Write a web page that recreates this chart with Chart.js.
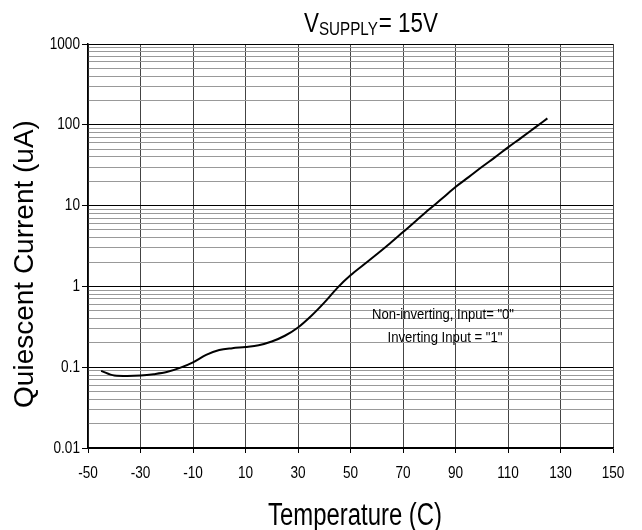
<!DOCTYPE html>
<html>
<head>
<meta charset="utf-8">
<script src="https://cdn.jsdelivr.net/npm/chart.js@4.4.1/dist/chart.umd.min.js"></script>
<style>
  html, body { margin: 0; padding: 0; background: #fff; }
  #wrap { width: 642px; height: 530px; }
</style>
</head>
<body>
<div id="wrap"><canvas id="chart"></canvas></div>
<script>
// temperature (C) vs quiescent current (uA)
const temps = [-45, -40, -35, -30, -25, -20, -15, -10, -5, 0, 5, 10, 15, 20, 25, 30, 35, 40, 45,
    50, 55, 60, 65, 70, 75, 80, 85, 90, 95, 100, 105, 110, 115, 120, 125];
const current = [0.090, 0.079, 0.078, 0.079, 0.082, 0.087, 0.098, 0.115, 0.142, 0.163, 0.172, 0.178,
    0.187, 0.208, 0.245, 0.310, 0.430, 0.630, 0.960, 1.37, 1.85, 2.50, 3.40, 4.70, 6.50, 9.0, 12.3,
    17.0, 22.5, 30, 39.5, 52.5, 69, 91, 120];

const xTicks = [-50, -30, -10, 10, 30, 50, 70, 90, 110, 130, 150];
const yDecades = [0.01, 0.1, 1, 10, 100, 1000];
const yDecadeLabels = ['0.01', '0.1', '1', '10', '100', '1000'];
const noteLines = ['Non-inverting, Input= "0"', 'Inverting Input = "1"'];

const SANS = "'Liberation Sans', Arial, sans-serif";

// all 1..9 x decade lines for the log grid
const yGridValues = [];
yDecades.slice(0, -1).forEach(d => {
    for (let m = 1; m <= 9; m++) yGridValues.push(Number((m * d).toPrecision(3)));
});
yGridValues.push(yDecades[yDecades.length - 1]);

const isDecade = v => yDecades.includes(v);

// text squeezed horizontally, to look like the narrow face of the original
function narrowText(ctx, text, x, y, size, squeeze, align) {
    ctx.save();
    ctx.font = `${size}px ${SANS}`;
    ctx.textAlign = align || 'center';
    ctx.translate(x, y);
    ctx.scale(squeeze, 1);
    ctx.fillText(text, 0, 0);
    ctx.restore();
}

function narrowWidth(ctx, text, size, squeeze) {
    ctx.save();
    ctx.font = `${size}px ${SANS}`;
    const w = ctx.measureText(text).width * squeeze;
    ctx.restore();
    return w;
}

const textPlugin = {
    id: 'texts',
    afterDraw(chart) {
        const ctx = chart.ctx;
        const sx = chart.scales.x, sy = chart.scales.y;
        ctx.save();
        ctx.fillStyle = '#000';
        ctx.textBaseline = 'middle';

        // tick labels
        xTicks.forEach(v => narrowText(ctx, String(v), sx.getPixelForValue(v), 473, 17, 0.8));
        yDecades.forEach((v, i) => narrowText(ctx, yDecadeLabels[i], 80, sy.getPixelForValue(v), 17, 0.8, 'right'));

        // title: V with SUPPLY subscript
        ctx.textBaseline = 'alphabetic';
        const sq = 0.8;
        const wV = narrowWidth(ctx, 'V', 28, sq);
        const wSub = narrowWidth(ctx, 'SUPPLY', 19, sq);
        const wEq = narrowWidth(ctx, '= 15V', 28, sq);
        let x = 371 - (wV + wSub + 1 + wEq) / 2;
        narrowText(ctx, 'V', x, 32, 28, sq, 'left');
        x += wV;
        narrowText(ctx, 'SUPPLY', x, 35, 19, sq, 'left');
        x += wSub + 1;
        narrowText(ctx, '= 15V', x, 32, 28, sq, 'left');

        // note inside the plot
        ctx.textBaseline = 'middle';
        narrowText(ctx, noteLines[0], 443, 315, 15, 142 / narrowWidth(ctx, noteLines[0], 15, 1));
        narrowText(ctx, noteLines[1], 445, 338, 15, 115 / narrowWidth(ctx, noteLines[1], 15, 1));

        // axis titles
        ctx.textBaseline = 'alphabetic';
        narrowText(ctx, 'Temperature (C)', 355, 525, 31, 174 / narrowWidth(ctx, 'Temperature (C)', 31, 1));

        ctx.textBaseline = 'middle';
        ctx.translate(25, 264);
        ctx.rotate(-Math.PI / 2);
        ctx.font = `28px ${SANS}`;
        ctx.textAlign = 'center';
        ctx.fillText('Quiescent Current (uA)', 0, 0);
        ctx.restore();
    }
};

new Chart(document.getElementById('chart'), {
    type: 'line',
    data: {
        datasets: [{
            data: temps.map((t, i) => ({ x: t, y: current[i] })),
            borderColor: '#000',
            borderWidth: 2,
            pointRadius: 0,
            fill: false,
            cubicInterpolationMode: 'monotone'
        }]
    },
    options: {
        responsive: true,
        maintainAspectRatio: false,
        animation: false,
        layout: { padding: { top: 44, right: 29, left: 0, bottom: 0 } },
        plugins: { legend: { display: false }, tooltip: { enabled: false } },
        scales: {
            x: {
                type: 'linear',
                min: -50,
                max: 150,
                afterBuildTicks: s => { s.ticks = xTicks.map(v => ({ value: v })); },
                afterFit: s => { s.height = 82; },
                ticks: { display: false },
                grid: { color: '#444', lineWidth: 1, tickLength: 5, tickColor: '#000' },
                border: { color: '#000', width: 1.5 }
            },
            y: {
                type: 'logarithmic',
                min: 0.01,
                max: 1000,
                afterBuildTicks: s => { s.ticks = yGridValues.map(v => ({ value: v })); },
                afterFit: s => { s.width = 88; },
                ticks: { display: false },
                grid: {
                    color: c => (c.tick && isDecade(c.tick.value)) ? '#000' : '#999',
                    lineWidth: 1,
                    tickLength: 6,
                    tickColor: c => (c.tick && isDecade(c.tick.value)) ? '#000' : 'rgba(0,0,0,0)'
                },
                border: { color: '#000', width: 1.5 }
            }
        }
    },
    plugins: [textPlugin]
});
</script>
</body>
</html>
